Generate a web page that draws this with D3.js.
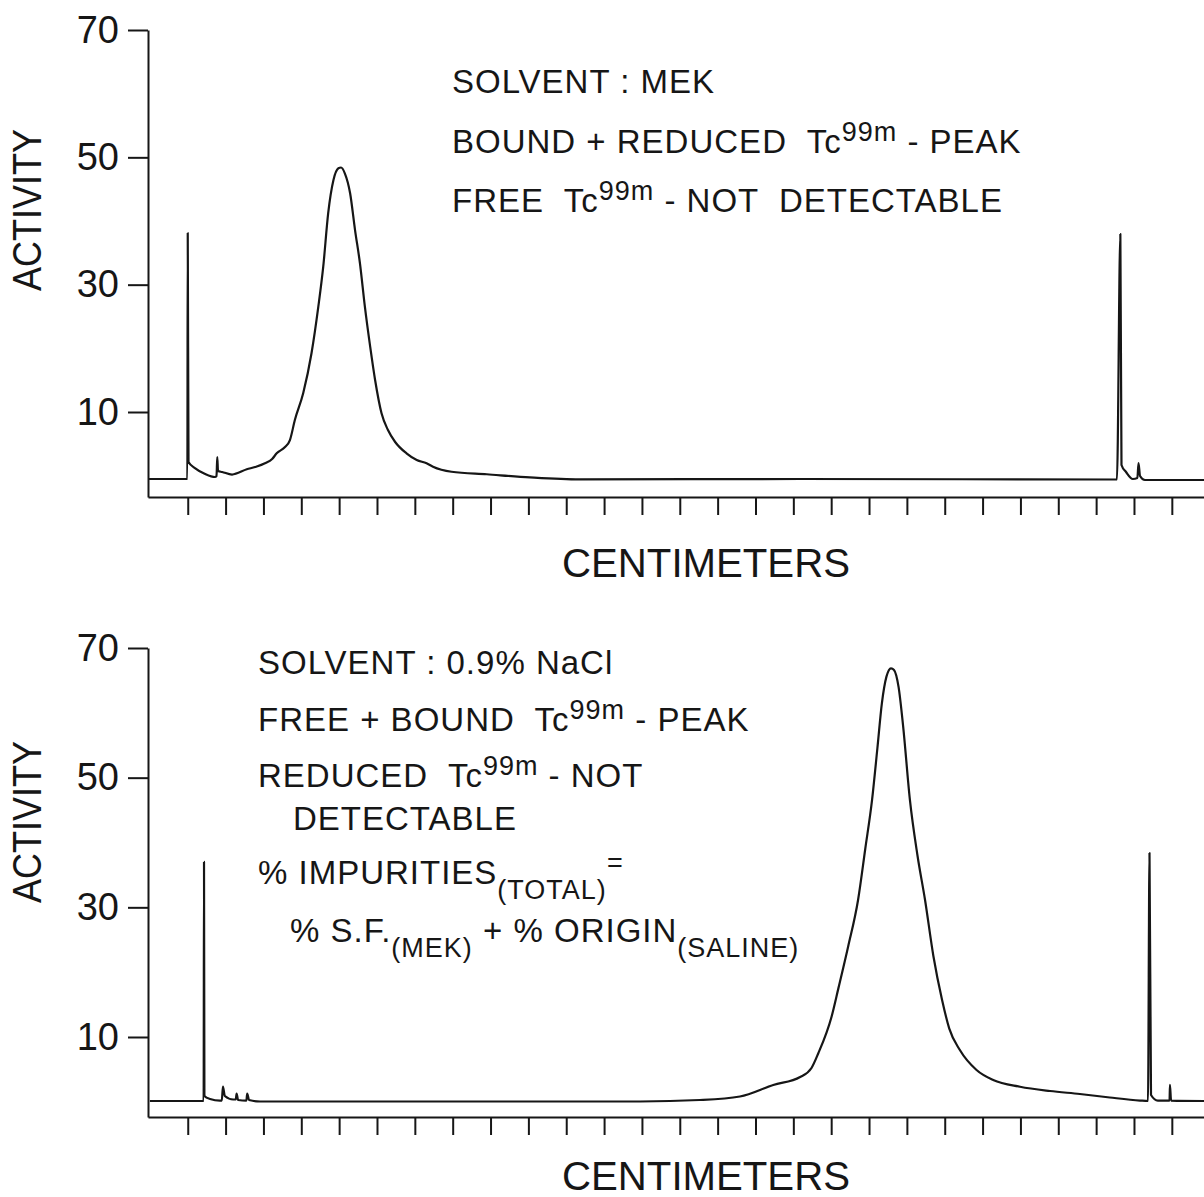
<!DOCTYPE html>
<html>
<head>
<meta charset="utf-8">
<script src="https://d3js.org/d3.v7.min.js"></script>
<style>
    body { margin: 0; background: #fff; }
    svg { display: block; background: #fff; }
    text { font-family: "Liberation Sans", Arial, sans-serif; fill: #161616; }
    .axis path, .axis line { stroke: #161616; stroke-width: 2px; }
    .axis text { font-size: 38px; }
    .trace { fill: none; stroke: #161616; stroke-width: 2.2px; stroke-linejoin: round; }
    .note { font-size: 33px; white-space: pre; letter-spacing: 1px; }
    .title { font-size: 40px; }
</style>
</head>
<body>
<svg></svg>
<script>
// ticks
var yTicks = [10, 30, 50, 70];
var xTicks = [1, 2, 3, 4, 5, 6, 7, 8, 9, 10, 11, 12, 13, 14, 15, 16, 17, 18, 19, 20, 21, 22, 23, 24, 25, 26, 27];

// scan in MEK : [position, activity]
var mekScan = [
    [-0.05, -0.52], [0.99, -0.52], [1.0, 38.1], [1.02, 2.15], [1.19, 1.2], [1.46, 0.26],
    [1.72, -0.21], [1.76, -0.1], [1.78, 2.93], [1.80, 0.73], [1.91, 0.58], [2.17, 0.18],
    [2.56, 1.0], [2.78, 1.36], [3.04, 1.94], [3.23, 2.62], [3.35, 3.51], [3.57, 4.5],
    [3.70, 5.6], [3.83, 8.74], [4.05, 12.94], [4.27, 19.22], [4.45, 26.54], [4.58, 32.82],
    [4.71, 41.21], [4.85, 46.44], [4.98, 48.28], [5.05, 48.4], [5.15, 47.49], [5.29, 44.35],
    [5.42, 38.58], [5.55, 33.35], [5.68, 26.54], [5.82, 20.26], [5.95, 15.03], [6.12, 9.8],
    [6.29, 7.17], [6.48, 5.29], [6.78, 3.51], [7.05, 2.46], [7.31, 1.94], [7.48, 1.41],
    [7.97, 0.62], [8.90, 0.22], [10.04, -0.26], [11.36, -0.57], [17.18, -0.52], [25.55, -0.6],
    [25.64, 37.96], [25.67, 1.68], [25.79, 0.58], [25.97, -0.52], [26.09, -0.37], [26.12, 1.99],
    [26.16, -0.05], [26.29, -0.68], [27.85, -0.68]
];

// scan in 0.9% NaCl : [position, activity]
var salineScan = [
    [0.0, 0.13], [1.42, 0.13], [1.43, 37.0], [1.44, 0.9], [1.59, 0.44], [1.85, 0.2],
    [1.90, 0.2], [1.93, 2.36], [1.98, 0.9], [2.20, 0.36], [2.27, 0.36], [2.29, 1.28],
    [2.33, 0.28], [2.55, 0.2], [2.57, 1.28], [2.62, 0.28], [2.91, 0.05], [12.95, 0.05],
    [14.53, 0.28], [15.59, 0.82], [16.47, 2.6], [17.18, 3.83], [17.48, 5.22], [17.66, 7.49],
    [18.01, 13.13], [18.19, 17.5], [18.45, 24.0], [18.71, 31.13], [18.90, 39.0], [19.08, 46.56],
    [19.22, 54.5], [19.34, 61.5], [19.46, 65.58], [19.58, 66.87], [19.66, 66.61], [19.78, 64.0],
    [19.90, 58.0], [20.08, 46.56], [20.28, 38.0], [20.48, 31.13], [20.70, 22.5], [20.93, 15.71],
    [21.12, 11.3], [21.40, 7.99], [21.84, 4.91], [22.28, 3.37], [22.99, 2.33], [23.78, 1.67],
    [24.57, 1.21], [25.36, 0.67], [26.16, 0.2], [26.37, 0.13], [26.41, 38.38], [26.45, 1.05],
    [26.63, 0.2], [26.94, 0.2], [26.95, 2.6], [26.98, 0.2], [27.85, 0.13]
];

// notes : [text, 'sup' | 'sub' | '']
var mekNotes = [
    [['SOLVENT : MEK', '']],
    [['BOUND + REDUCED  Tc', ''], ['99m', 'sup'], [' - PEAK', '']],
    [['FREE  Tc', ''], ['99m', 'sup'], [' - NOT  DETECTABLE', '']]
];
var salineNotes = [
    [['SOLVENT : 0.9% NaCl', '']],
    [['FREE + BOUND  Tc', ''], ['99m', 'sup'], [' - PEAK', '']],
    [['REDUCED  Tc', ''], ['99m', 'sup'], [' - NOT', '']],
    [['DETECTABLE', '']],
    [['% IMPURITIES', ''], ['(TOTAL)', 'sub'], ['=', 'sup']],
    [['% S.F.', ''], ['(MEK)', 'sub'], [' + % ORIGIN', ''], ['(SALINE)', 'sub']]
];

var yLabel = 'ACTIVITY',
    xLabel = 'CENTIMETERS';

// svg
var width = 1204, height = 1197;
var svg = d3.select('svg')
    .attr('width', width)
    .attr('height', height);

var x = d3.scaleLinear().domain([-0.05, 27.85]).range([148, 1204]);

var panels = [
    { data: mekScan, notes: mekNotes, top: 30, bottom: 497, low: -3.35,
      noteXY: [[452, 93], [452, 153], [452, 212]], activityY: 210, titleY: 577 },
    { data: salineScan, notes: salineNotes, top: 648, bottom: 1117, low: -2.34,
      noteXY: [[258, 674], [258, 731], [258, 787], [293, 830], [258, 884], [290, 942]], activityY: 822, titleY: 1190 }
];

panels.forEach(function (p) {
    var y = d3.scaleLinear().domain([p.low, 70]).range([p.bottom, p.top]);

    // y axis
    svg.append('g')
        .attr('class', 'axis')
        .attr('transform', 'translate(' + x.range()[0] + ',0)')
        .call(d3.axisLeft(y).tickValues(yTicks).tickSize(20).tickSizeOuter(0).tickPadding(9).tickFormat(d3.format('d')))
        .call(function (g) { g.selectAll('text').attr('fill', '#161616').attr('font-family', null).attr('font-size', null); });

    // x axis
    svg.append('g')
        .attr('class', 'axis')
        .attr('transform', 'translate(0,' + p.bottom + ')')
        .call(d3.axisBottom(x).tickValues(xTicks).tickSize(18).tickSizeOuter(0).tickFormat(''));

    // trace
    var line = d3.line()
        .x(function (d) { return x(d[0]); })
        .y(function (d) { return y(d[1]); })
        .curve(d3.curveMonotoneX);

    svg.append('path')
        .datum(p.data)
        .attr('class', 'trace')
        .attr('d', line);

    // labels
    svg.append('text')
        .attr('class', 'title')
        .attr('transform', 'translate(41,' + p.activityY + ') rotate(-90)')
        .attr('text-anchor', 'middle')
        .attr('textLength', 162)
        .attr('lengthAdjust', 'spacingAndGlyphs')
        .text(yLabel);

    svg.append('text')
        .attr('class', 'title')
        .attr('x', 706)
        .attr('y', p.titleY)
        .attr('text-anchor', 'middle')
        .attr('textLength', 288)
        .attr('lengthAdjust', 'spacingAndGlyphs')
        .text(xLabel);

    // notes
    p.notes.forEach(function (row, i) {
        var t = svg.append('text')
            .attr('class', 'note')
            .attr('x', p.noteXY[i][0])
            .attr('y', p.noteXY[i][1]);
        var cur = 0;
        row.forEach(function (seg) {
            var off = seg[1] === 'sup' ? -12 : seg[1] === 'sub' ? 15 : 0;
            t.append('tspan')
                .attr('dy', off - cur)
                .style('font-size', seg[1] ? '27px' : null)
                .text(seg[0]);
            cur = off;
        });
    });
});
</script>
</body>
</html>
